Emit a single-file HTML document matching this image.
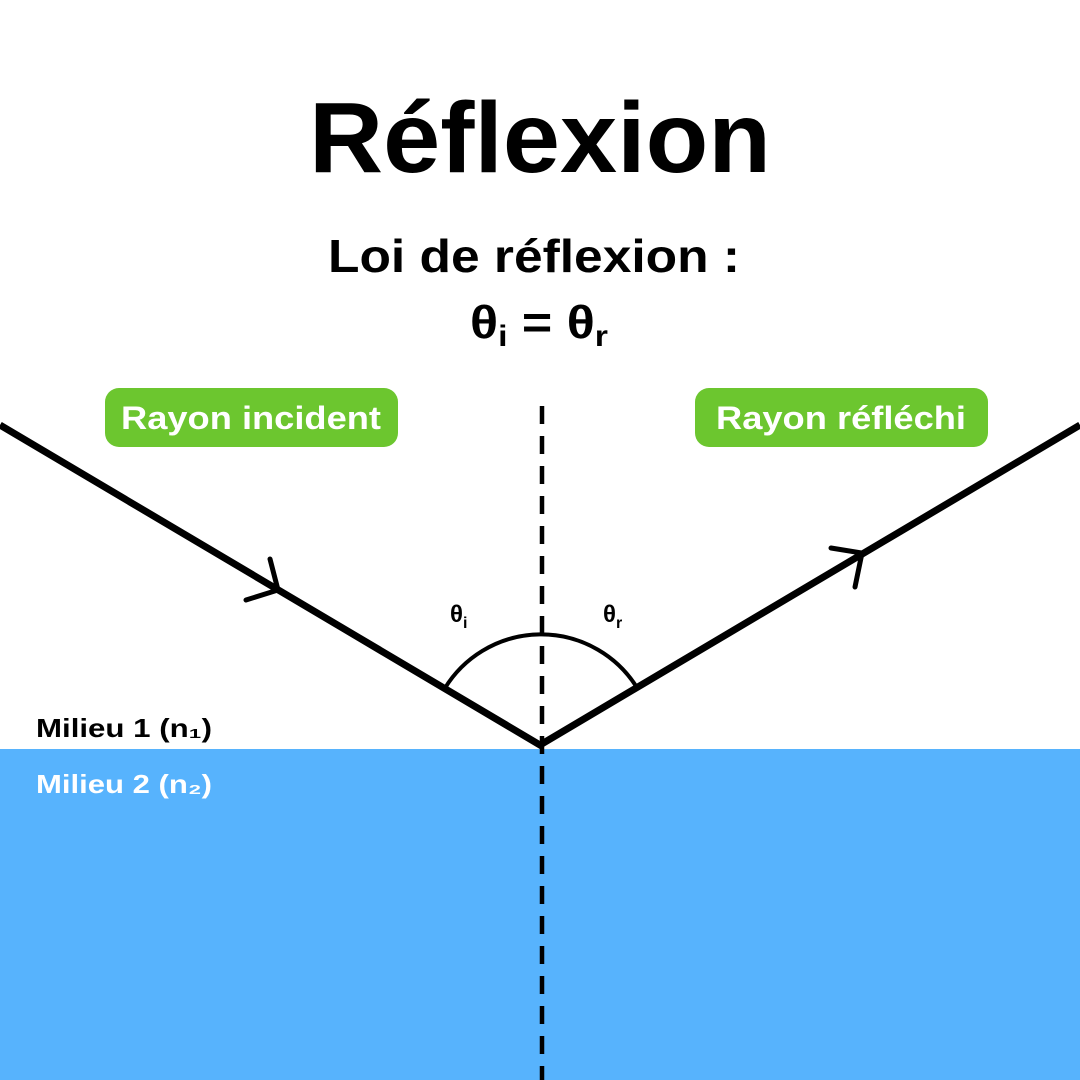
<!DOCTYPE html>
<html><head><meta charset="utf-8"><style>html,body{margin:0;padding:0;background:#fff}svg{display:block}</style></head>
<body>
<svg width="1080" height="1080" viewBox="0 0 1080 1080" xmlns="http://www.w3.org/2000/svg" font-family="Liberation Sans, DejaVu Sans, sans-serif" font-weight="bold">
<rect x="0" y="0" width="1080" height="1080" fill="#fff"/>
<rect x="0" y="749" width="1080" height="331" fill="#57b3fd"/>
<text x="540" y="172" text-anchor="middle" font-size="100" textLength="462" lengthAdjust="spacingAndGlyphs">Réflexion</text>
<text x="534" y="272" text-anchor="middle" font-size="46" textLength="412" lengthAdjust="spacingAndGlyphs">Loi de réflexion :</text>
<text x="470" y="338" font-size="46" textLength="138" lengthAdjust="spacingAndGlyphs">θ<tspan font-size="30" dy="8">i</tspan><tspan dy="-8"> = θ</tspan><tspan font-size="30" dy="8">r</tspan></text>
<rect x="105" y="388" width="293" height="59" rx="14" fill="#6cc62f"/>
<text x="251" y="429" text-anchor="middle" font-size="32" fill="#fff" textLength="260" lengthAdjust="spacingAndGlyphs">Rayon incident</text>
<rect x="695" y="388" width="293" height="59" rx="14" fill="#6cc62f"/>
<text x="841" y="429" text-anchor="middle" font-size="32" fill="#fff" textLength="250" lengthAdjust="spacingAndGlyphs">Rayon réfléchi</text>
<line x1="542" y1="406" x2="542" y2="1080" stroke="#000" stroke-width="4.5" stroke-dasharray="18,12"/>
<path d="M 445 688 A 113 113 0 0 1 636 686" fill="none" stroke="#000" stroke-width="4"/>
<polyline points="0,425 540,745 1080,425" fill="none" stroke="#000" stroke-width="7" stroke-linejoin="miter"/>
<polyline points="246,600 278,590 270,559" fill="none" stroke="#000" stroke-width="5" stroke-linecap="round"/>
<polyline points="831,548 862,553 855,587" fill="none" stroke="#000" stroke-width="5" stroke-linecap="round"/>
<text x="450" y="622" font-size="24">θ<tspan font-size="16" dy="6">i</tspan></text>
<text x="603" y="622" font-size="24">θ<tspan font-size="16" dy="6">r</tspan></text>
<text x="36" y="737" font-size="26" fill="#000" textLength="176" lengthAdjust="spacingAndGlyphs">Milieu 1 (n₁)</text>
<text x="36" y="793" font-size="26" fill="#fff" textLength="176" lengthAdjust="spacingAndGlyphs">Milieu 2 (n₂)</text>
</svg>
</body></html>
